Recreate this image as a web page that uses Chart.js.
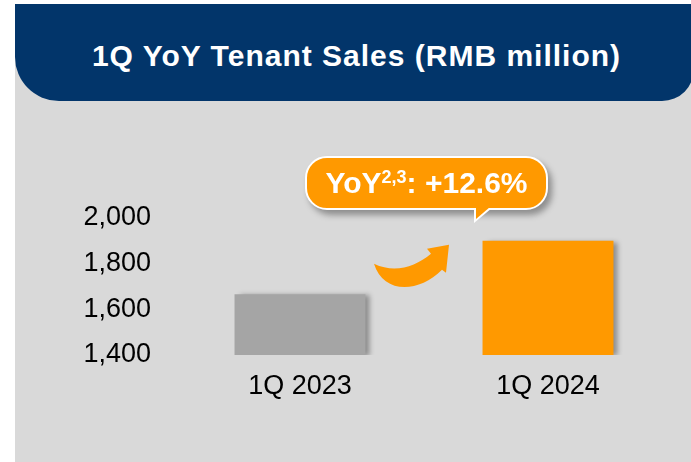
<!DOCTYPE html>
<html>
<head>
<meta charset="utf-8">
<script src="https://cdn.jsdelivr.net/npm/chart.js@4"></script>
<style>
  html, body { margin: 0; padding: 0; width: 691px; height: 462px; overflow: hidden; background: #ffffff; }
  #panel { position: absolute; left: 15px; top: 4px; width: 700px; height: 470px; background: #d9d9d9; }
  #header {
    position: absolute; left: 15px; top: 4px; width: 679px; height: 91px; padding-top: 6px;
    background: #02356a; border-radius: 0 0 32px 44px;
    color: #fff; font: bold 30px "Liberation Sans", Arial, sans-serif; letter-spacing: 1px;
    text-align: center; line-height: 91px;
  }
  #header span { margin-left: 4px; }
  #wrap { position: absolute; left: 0; top: 0; width: 691px; height: 462px; }
  #callout {
    position: absolute; left: 305px; top: 156px; width: 239px; height: 50px;
    background: #ff9900; border: 2px solid #fff; border-radius: 22px;
    box-shadow: 4px 5px 6px rgba(0,0,0,0.35);
    color: #fff; font: bold 30px "Liberation Sans", Arial, sans-serif;
    text-align: center; line-height: 50px; z-index: 3;
  }
  #callout sup { font-size: 18px; line-height: 0; vertical-align: 10px; }
  #tail-w, #tail-o { position: absolute; width: 0; height: 0; z-index: 4; }
  #tail-w { left: 474px; top: 208px; border-top: 15px solid #fff; border-right: 18px solid transparent; }
  #tail-o { left: 476px; top: 207px; border-top: 12px solid #ff9900; border-right: 14px solid transparent; }
</style>
</head>
<body>
<div id="panel"></div>
<div id="header"><span>1Q YoY Tenant Sales (RMB million)</span></div>
<div id="wrap"><canvas id="chart"></canvas></div>
<div id="callout">YoY<sup>2,3</sup>: +12.6%</div>
<div id="tail-w"></div>
<div id="tail-o"></div>
<script>
// Data
const categories = ['1Q 2023', '1Q 2024'];
const salesValues = [1666, 1900];
const barColors = ['#a5a5a5', '#ff9900'];
const yTicks = [1400, 1600, 1800, 2000];

// Shadow behind the bars (falls to the right)
const barShadow = {
    id: 'barShadow',
    beforeDatasetsDraw(chart) {
        const c = chart.ctx;
        c.save();
        c.shadowColor = 'rgba(0,0,0,0.35)';
        c.shadowBlur = 5;
        c.shadowOffsetX = 5;
        c.shadowOffsetY = 1;
    },
    afterDatasetsDraw(chart) {
        chart.ctx.restore();
    }
};

// Curved growth arrow between the two bars
const growthArrow = {
    id: 'growthArrow',
    afterDatasetsDraw(chart) {
        const x = chart.scales.x;
        const y = chart.scales.y;
        const mx = (x.getPixelForValue(0) + x.getPixelForValue(1)) / 2;
        const my = y.getPixelForValue(1800);
        const c = chart.ctx;
        c.save();
        c.fillStyle = '#ff9900';
        c.beginPath();
        c.moveTo(mx - 50, my);
        c.bezierCurveTo(mx - 41, my + 30, mx - 6, my + 30, mx + 18, my + 6);
        c.lineTo(mx + 22, my + 9);
        c.lineTo(mx + 25, my - 19);
        c.lineTo(mx + 3, my - 15);
        c.lineTo(mx + 7, my - 10);
        c.bezierCurveTo(mx - 9, my + 3, mx - 29, my + 10, mx - 50, my);
        c.closePath();
        c.fill();
        c.restore();
    }
};

const ctx = document.getElementById('chart').getContext('2d');
new Chart(ctx, {
    type: 'bar',
    data: {
        labels: categories,
        datasets: [{
            data: salesValues,
            backgroundColor: barColors,
            borderWidth: 0,
            barPercentage: 1,
            categoryPercentage: 0.528,
            base: 1400
        }]
    },
    options: {
        responsive: true,
        maintainAspectRatio: false,
        animation: false,
        layout: { padding: { top: 218, bottom: 61, left: 0, right: 19 } },
        plugins: { legend: { display: false }, tooltip: { enabled: false } },
        scales: {
            x: {
                grid: { display: false, drawTicks: false },
                border: { display: false },
                ticks: {
                    color: '#000',
                    padding: 15,
                    font: { family: '"Liberation Sans", Arial, sans-serif', size: 27 }
                },
                afterFit(scale) { scale.height = 46; }
            },
            y: {
                min: 1400,
                max: 2000,
                afterFit(scale) { scale.width = 176; },
                afterBuildTicks(scale) { scale.ticks = yTicks.map(v => ({ value: v })); },
                grid: { display: false, drawTicks: false },
                border: { display: false },
                ticks: {
                    color: '#000',
                    padding: 25,
                    font: { family: '"Liberation Sans", Arial, sans-serif', size: 27 },
                    callback: v => v.toLocaleString('en-US')
                }
            }
        }
    },
    plugins: [barShadow, growthArrow]
});
</script>
</body>
</html>
